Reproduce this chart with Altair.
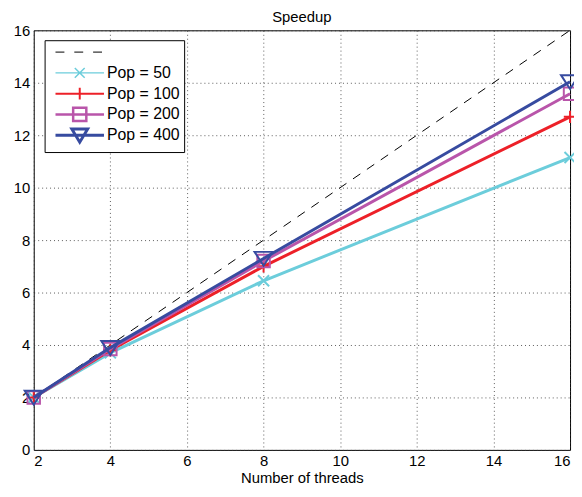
import altair as alt
import pandas as pd

threads = [2, 4, 8, 16]
pop50 = [2.0, 3.70, 6.45, 11.15]
pop100 = [2.0, 3.80, 7.00, 12.70]
pop200 = [2.0, 3.85, 7.20, 13.58]
pop400 = [2.0, 3.90, 7.30, 14.04]
ideal_x = [2, 16]
ideal_y = [2, 16]

series_names = ["Pop = 50", "Pop = 100", "Pop = 200", "Pop = 400"]
series_values = [pop50, pop100, pop200, pop400]
colors = ["#6ccddb", "#ed2028", "#b955aa", "#374ba0"]

# marker paths for the plot (unit = 7px at size 196)
plot_markers = [
    "M-0.8,-0.8L0.8,0.8M-0.8,0.8L0.8,-0.8",
    "M-0.9,0H0.9M0,-0.9V0.9",
    "M-0.9,-0.9H0.9V0.9H-0.9Z",
    "M-1.3,-0.95H1.3L0,1.05Z",
]

# legend symbol paths (unit = 5px at size 100): line + marker centred at 4.7 units
EXT = "M4.7,-1.4M4.7,1.4"
legend_paths = [
    EXT + "M-0.2,0H1.6M3.6,0H5.4M7.4,0H9.2",
    EXT + "M-0.2,0H9.6M3.7,-1L5.7,1M3.7,1L5.7,-1",
    EXT + "M-0.2,0H9.6M3.5,0H5.9M4.7,-1.2V1.2",
    EXT + "M-0.2,0H3.37M6.03,0H9.6M3.37,-1.33H6.03V1.33H3.37ZM3.37,0H6.03",
    EXT + "M-0.2,0H9.6M3.1,-1.26H6.3L4.7,1.4Z",
]

FONT = "Liberation Sans"
W, H = 542, 424

xs = alt.Scale(domain=[2, 16], nice=False)
ys = alt.Scale(domain=[0, 16], nice=False)
xaxis = alt.Axis(values=list(range(2, 17, 2)), title="Number of threads", format="d")
yaxis = alt.Axis(values=list(range(0, 17, 2)), title=None, format="d")

ideal_df = pd.DataFrame({"x": ideal_x, "y": ideal_y})
ideal = alt.Chart(ideal_df).mark_line(color="black", strokeWidth=1, strokeDash=[9, 8]).encode(
    x=alt.X("x:Q", scale=xs, axis=xaxis),
    y=alt.Y("y:Q", scale=ys, axis=yaxis),
)

layers = [ideal]
for name, vals, col, mk in zip(series_names, series_values, colors, plot_markers):
    df = pd.DataFrame({"x": threads, "y": vals})
    line = alt.Chart(df).mark_line(color=col, strokeWidth=3).encode(
        x=alt.X("x:Q", scale=xs), y=alt.Y("y:Q", scale=ys)
    )
    pts = alt.Chart(df).mark_point(
        shape=mk, size=196, filled=False, color=col, strokeWidth=2, opacity=1
    ).encode(x=alt.X("x:Q", scale=xs), y=alt.Y("y:Q", scale=ys))
    layers += [line, pts]

leg_order = ["Ideal"] + series_names
leg_df = pd.DataFrame({"series": leg_order, "x": [2] * 5, "y": [2] * 5})
legend = alt.Legend(
    title=None, orient="none", legendX=11, legendY=10,
    strokeColor="black", fillColor="white", padding=4, cornerRadius=0,
    labelFont=FONT, labelFontSize=16, labelColor="black", labelOffset=43,
    labelExpr="datum.label == 'Ideal' ? '' : datum.label",
    symbolSize=100, rowPadding=-13, gridAlign="all",
    symbolFillColor="transparent", symbolOpacity=1,
)
leg_layer = alt.Chart(leg_df).mark_point(filled=False, opacity=0).encode(
    x=alt.X("x:Q", scale=xs),
    y=alt.Y("y:Q", scale=ys),
    color=alt.Color("series:N", scale=alt.Scale(domain=leg_order, range=["black"] + colors), legend=legend),
    shape=alt.Shape("series:N", scale=alt.Scale(domain=leg_order, range=legend_paths), legend=legend),
    strokeWidth=alt.StrokeWidth("series:N", scale=alt.Scale(domain=leg_order, range=[1, 3, 3, 3, 3]), legend=legend),
)
layers.append(leg_layer)

chart = alt.layer(*layers).properties(
    width=W, height=H,
    title=alt.TitleParams("Speedup", fontSize=15, font=FONT, fontWeight="normal", color="black", offset=-2, anchor="middle"),
    autosize=alt.AutoSizeParams(type="none"),
    padding={"left": 26, "top": 20, "right": 4, "bottom": 40},
).configure_view(
    stroke="black", strokeWidth=1
).configure_axis(
    domain=False, ticks=False, grid=True,
    gridColor="#333333", gridDash=[1, 3], gridWidth=1, gridOpacity=0.8,
    labelFont=FONT, labelFontSize=15, labelColor="black",
    titleFont=FONT, titleFontSize=15, titleFontWeight="normal", titleColor="black",
    labelPadding=4, titlePadding=2,
)

chart.save("out.html", embed_options={"renderer": "svg", "actions": False})
